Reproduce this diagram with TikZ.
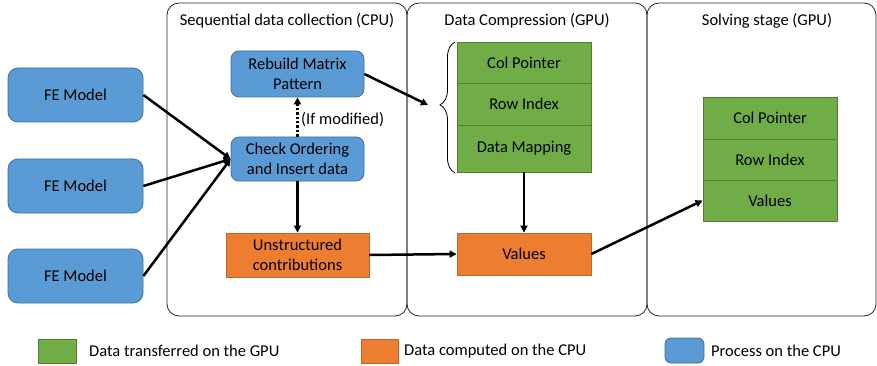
\documentclass[tikz,border=0pt]{standalone}
\usepackage{fontspec}
\setmainfont{Carlito}
\usetikzlibrary{arrows.meta,decorations.pathreplacing}
\definecolor{cblue}{HTML}{5B9BD5}
\definecolor{cbluedk}{HTML}{41719C}
\definecolor{cgreen}{HTML}{70AD47}
\definecolor{cgreendk}{HTML}{507E32}
\definecolor{corange}{HTML}{ED7D31}
\definecolor{corangedk}{HTML}{C0652A}
\definecolor{cpanel}{HTML}{262626}
\tikzset{
  txt/.style={font=\fontsize{16.5}{20}\selectfont, text=black},
  bluebox/.style={txt, draw=cbluedk, line width=0.8pt, fill=cblue, rounded corners=8pt, inner sep=0pt, align=center},
  greencell/.style={txt, draw=cgreendk, line width=0.8pt, fill=cgreen, inner sep=0pt, align=center, minimum width=134pt},
  orangebox/.style={txt, draw=corangedk, line width=0.8pt, fill=corange, inner sep=0pt, align=center},
  panel/.style={draw=cpanel, line width=0.8pt, rounded corners=12pt},
  arr/.style={line width=2.5pt, -{Triangle[length=7pt,width=7pt]}},
  dotarr/.style={line width=2.4pt, dotted, -{Triangle[length=7pt,width=7pt]}},
}
\begin{document}
\begin{tikzpicture}[x=1pt,y=-1pt]
\useasboundingbox (0,0) rectangle (877,366);
\fill[white] (0,0) rectangle (877,366);
% panels
\draw[panel] (167,3) rectangle (407,316);
\draw[panel] (407,3) rectangle (647,316);
\draw[panel] (647,3) rectangle (876,316);
\node[txt] (t1) at (287,21) {Sequential data collection (CPU)};
\node[txt] (t2) at (527,21) {Data Compression (GPU)};
\node[txt] (t3) at (767,21) {Solving stage (GPU)};
% FE models
\node[bluebox, rounded corners=10pt, minimum width=135pt, minimum height=54pt] (fe1) at (75.5,95) {FE Model};
\node[bluebox, rounded corners=10pt, minimum width=135pt, minimum height=54pt] (fe2) at (75.5,186) {FE Model};
\node[bluebox, rounded corners=10pt, minimum width=135pt, minimum height=54pt] (fe3) at (75.5,276) {FE Model};
% CPU processes
\node[bluebox, minimum width=133pt, minimum height=46pt] (rebuild) at (297.5,74) {Rebuild Matrix\\Pattern};
\node[bluebox, minimum width=133pt, minimum height=44pt] (check) at (297.5,159) {Check Ordering\\and Insert data};
\node[orangebox, minimum width=143pt, minimum height=44pt] (unstr) at (297.5,255) {Unstructured\\contributions};
% compression stack
\node[greencell, minimum height=41pt] (cp1) at (524,62.5) {Col Pointer};
\node[greencell, minimum height=42pt] (ri1) at (524,104) {Row Index};
\node[greencell, minimum height=47pt] (dm1) at (524,148.5) {Data Mapping};
\node[orangebox, minimum width=134pt, minimum height=42pt] (vals1) at (524,254) {Values};
% solving stack
\node[greencell, minimum height=42pt] (cp2) at (770,118) {Col Pointer};
\node[greencell, minimum height=41pt] (ri2) at (770,159.5) {Row Index};
\node[greencell, minimum height=41pt] (v2) at (770,200.5) {Values};
% brace
\coordinate (bb) at (455,173);
\coordinate (bt) at (455,42);
\draw[line width=0.8pt, decorate, decoration={brace, amplitude=15pt, aspect=0.52}] (bb) -- (bt);
\coordinate (bend) at (428,105);
% connectors
\draw[arr] (fe1.east) -- (check.west);
\draw[arr] (fe2.east) -- (check.west);
\draw[arr] (fe3.east) -- (check.west);
\draw[dotarr] (check.north) -- (rebuild.south);
\node[txt, anchor=west, inner sep=0pt] (ifmod) at (301,120) {(If modified)};
\draw[arr] (check.south) -- (unstr.north);
\draw[arr] (rebuild.east) -- (bend);
\draw[arr] (dm1.south) -- (vals1.north);
\draw[arr] (unstr.east) -- (vals1.west);
\draw[arr] (vals1.east) -- (v2.west);
% legend
\node[draw=cgreendk, line width=0.8pt, fill=cgreen, minimum width=38pt, minimum height=24pt, inner sep=0pt] (lg) at (57,351) {};
\node[txt, anchor=west, inner sep=0pt] (lgt) at (89,351) {Data transferred on the GPU};
\node[draw=corangedk, line width=0.8pt, fill=corange, minimum width=37pt, minimum height=24pt, inner sep=0pt] (lo) at (379.5,351) {};
\node[txt, anchor=west, inner sep=0pt] (lot) at (404,351) {Data computed on the CPU};
\node[draw=cbluedk, line width=0.8pt, fill=cblue, rounded corners=6pt, minimum width=39pt, minimum height=25pt, inner sep=0pt] (lb) at (684.5,350.5) {};
\node[txt, anchor=west, inner sep=0pt] (lbt) at (711,351) {Process on the CPU};
\end{tikzpicture}
\end{document}
